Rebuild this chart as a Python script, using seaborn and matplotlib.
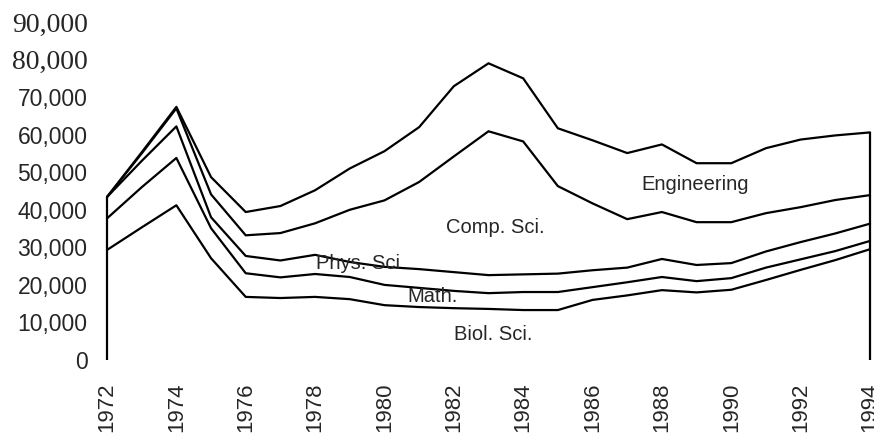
import numpy as np
import pandas as pd
import seaborn as sns
import matplotlib
matplotlib.use("Agg")
import matplotlib.pyplot as plt
from matplotlib.font_manager import FontProperties

# values per field, stacked bottom to top
years = list(range(1972, 1995))
biol = [29300, 35300, 41200, 27100, 16800, 16500, 16800, 16200, 14600, 14100, 13800, 13600,
        13300, 13300, 16000, 17200, 18600, 18000, 18700, 21300, 24000, 26600, 29500]
math_ = [8400, 10700, 12600, 8000, 6300, 5500, 6100, 5900, 5400, 5100, 4600, 4200,
         4800, 4800, 3400, 3500, 3500, 3000, 3100, 3300, 2800, 2400, 2200]
phys = [5700, 7000, 8400, 2900, 4600, 4500, 5100, 4000, 4800, 5000, 5000, 4800,
        4700, 4900, 4500, 3900, 4800, 4300, 4000, 4300, 4600, 4700, 4600]
comp = [0, 2000, 4800, 6100, 5500, 7300, 8400, 13900, 17700, 23200, 30800, 38300,
        35400, 23300, 17800, 12900, 12500, 11400, 10900, 10200, 9300, 8900, 7600]
eng = [0, 300, 400, 4600, 6200, 7200, 8800, 11000, 13100, 14600, 18700, 18100,
       16800, 15400, 16800, 17600, 18000, 15700, 15700, 17300, 18000, 17200, 16700]
fields = ["Biol. Sci.", "Math.", "Phys. Sci", "Comp. Sci.", "Engineering"]
yticks = list(range(0, 90001, 10000))
xticks = list(range(1972, 1995, 2))

stack = np.cumsum(np.array([biol, math_, phys, comp, eng]), axis=0)
rows = []
for name, tops in zip(fields, stack):
    for yr, v in zip(years, tops):
        rows.append({"year": yr, "total": v, "field": name})
df = pd.DataFrame(rows)

sns.set_style("white")
plt.rcParams["font.family"] = ["Liberation Sans", "DejaVu Sans"]

fig = plt.figure(figsize=(8.74, 4.38), dpi=100)
ax = fig.add_axes([107 / 874, 78 / 438, 763 / 874, 338 / 438])

sns.lineplot(data=df, x="year", y="total", units="field", estimator=None,
             color="black", linewidth=1.6, ax=ax, legend=False, clip_on=False)
ax.vlines([years[0], years[-1]], 0, [stack[-1][0], stack[-1][-1]],
          color="black", linewidth=1.6, clip_on=False)

ax.set_xlim(1972, 1994)
ax.set_ylim(0, 90000)
ax.set_xlabel("")
ax.set_ylabel("")
for s in ax.spines.values():
    s.set_visible(False)

ax.set_xticks(xticks)
ax.set_xticklabels([str(x) for x in xticks], rotation=90, fontsize=16)
ax.set_yticks(yticks)
ax.set_yticklabels([f"{v:,}" for v in yticks])
# the scan mixes two typefaces on the y axis
for lab, v in zip(ax.get_yticklabels(), yticks):
    if v >= 80000:
        lab.set_fontproperties(FontProperties(family="Liberation Serif", size=20))
    else:
        lab.set_fontproperties(FontProperties(family="Liberation Sans", size=16.5))
ax.tick_params(axis="x", length=0, pad=16)
ax.tick_params(axis="y", length=0, pad=14)

labels = {
    "Engineering": (1988.95, 46600),
    "Comp. Sci.": (1983.2, 35400),
    "Phys. Sci": (1979.25, 25800),
    "Math.": (1981.4, 17000),
    "Biol. Sci.": (1983.15, 6700),
}
for txt, (lx, ly) in labels.items():
    ax.text(lx, ly, txt, fontsize=14.5, ha="center", va="center")

plt.savefig("out.png", dpi=100)
